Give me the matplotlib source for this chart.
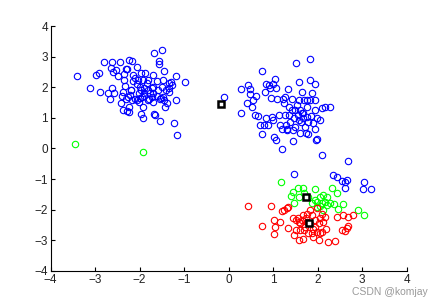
import numpy as np
import matplotlib
matplotlib.use("Agg")
import matplotlib.pyplot as plt

# cluster points
blue_x = [-3.40, -3.12, -2.99, -2.91, -2.89, -2.80, -2.70, -2.67, -2.64, -2.62, -2.61, -2.57,
          -2.59, -2.52, -2.49, -2.43, -2.42, -2.37, -2.35, -2.35, -2.31, -2.29, -2.25, -2.37,
          -2.29, -2.25, -2.23, -2.27, -2.22, -2.19, -2.16, -2.14, -2.10, -2.07, -2.07, -2.03,
          -2.02, -2.05, -2.01, -1.99, -1.96, -1.92, -1.91, -1.96, -1.95, -1.90, -1.92, -1.96,
          -1.92, -1.87, -1.84, -1.82, -1.81, -1.77, -1.73, -1.69, -1.69, -1.67, -1.67, -1.66,
          -1.62, -1.58, -1.57, -1.56, -1.54, -1.51, -1.54, -1.50, -1.48, -1.46, -1.46, -1.42,
          -1.39, -1.35, -1.35, -1.30, -1.27, -1.23, -1.19, -1.18, -1.15, -0.98, -2.18, -2.32,
          -2.18, -1.73, -1.81, -1.33, -1.48, -1.69, -2.10, -1.90, -2.00, -1.80, -2.20, -1.70,
          -2.30, -2.40, -1.60, -1.50, -1.40,
          -0.105, 0.28, 0.27, 0.44, 0.42, 0.48, 0.49, 0.52, 0.55, 0.59, 0.61, 0.67, 0.70,
          0.74, 0.76, 0.79, 0.82, 0.85, 0.85, 0.89, 0.91, 0.93, 0.94, 0.97, 0.99, 1.00, 1.02,
          1.04, 1.06, 1.06, 1.08, 1.12, 1.15, 1.19, 1.19, 1.21, 1.24, 1.27, 1.29, 1.32, 1.34,
          1.35, 1.36, 1.38, 1.42, 1.44, 1.45, 1.47, 1.49, 1.51, 1.53, 1.55, 1.57, 1.58, 1.60,
          1.63, 1.64, 1.65, 1.68, 1.69, 1.72, 1.74, 1.75, 1.76, 1.79, 1.83, 1.83, 1.84, 1.87,
          1.90, 1.93, 1.94, 1.96, 1.98, 1.99, 2.05, 2.10, 2.10, 2.17, 2.28, 1.27, 1.42, 1.57,
          1.68, 1.75, 1.60, 1.49, 1.30, 1.95, 1.83, 1.93, 1.79,
          1.47, 2.67, 2.34, 2.44, 2.54, 2.61, 2.65, 2.61, 3.03, 3.01, 3.19]
blue_y = [2.36, 1.99, 2.39, 2.48, 1.84, 2.81, 1.82, 1.62, 2.62, 2.82, 1.96, 1.82,
          2.51, 2.56, 2.37, 2.81, 1.49, 1.84, 2.23, 2.43, 2.60, 2.60, 2.89, 1.25,
          1.23, 1.19, 1.36, 1.69, 1.74, 1.91, 2.21, 2.40, 2.31, 2.10, 2.67, 2.24,
          1.80, 1.58, 1.53, 1.64, 2.47, 2.23, 1.99, 1.91, 1.69, 1.71, 1.36, 1.14,
          0.98, 2.47, 2.15, 1.91, 1.58, 1.80, 1.69, 1.53, 2.40, 1.12, 3.11, 1.09,
          2.20, 1.91, 2.87, 2.76, 1.60, 1.65, 0.89, 3.23, 2.23, 2.53, 1.58, 1.36,
          1.47, 1.85, 2.15, 2.18, 2.07, 0.84, 1.58, 2.36, 0.44, 2.16, 2.86, 2.05,
          1.58, 1.96, 2.23, 1.96, 1.69, 1.80, 1.60, 1.80, 2.00, 1.60, 1.90, 2.00,
          1.60, 1.70, 1.70, 2.00, 1.90,
          1.69, 1.95, 1.17, 2.07, 1.50, 1.78, 1.93, 1.36, 1.58, 1.09, 1.71, 1.06, 0.76,
          0.46, 2.54, 0.76, 1.85, 2.09, 0.98, 0.76, 2.07, 1.96, 1.66, 1.04, 0.93, 2.12, 0.38,
          2.27, 1.96, 0.27, 1.63, 1.09, 0.76, 0.65, -0.02, 1.63, 1.47, 1.09, 0.76, 0.60, 1.93,
          1.34, 1.09, 0.87, 1.60, 0.60, 0.25, 0.98, 0.71, 2.78, 1.41, 1.09, 2.17, 1.58, 0.49,
          0.87, 1.85, 1.17, 0.98, 1.58, 0.71, 0.49, 1.36, 1.58, 0.87, 2.93, 2.23, 1.06, 1.80,
          0.82, 1.25, 2.12, 0.27, 0.32, 0.98, 0.93, 1.31, -0.22, 1.34, 1.36, 1.69, 1.25, 0.93,
          1.15, 1.04, 1.25, 1.25, 0.65, 1.58, 1.58, 0.65, 0.46,
          -0.82, -0.40, -0.87, -0.95, -1.06, -1.09, -1.02, -1.31, -1.09, -1.32, -1.32]

green_x = [-3.45, -1.93, 1.18, 1.39, 1.44, 1.47, 1.55, 1.57, 1.66, 1.69, 1.79, 1.87,
           1.93, 1.95, 1.99, 2.05, 2.10, 2.13, 2.17, 2.20, 2.22, 2.28, 2.33, 2.37,
           2.43, 2.46, 2.57, 2.90, 3.03, 2.11, 2.06, 1.99]
green_y = [0.16, -0.11, -1.09, -1.56, -1.42, -1.77, -1.29, -1.58, -1.31, -1.47, -1.58, -1.77,
           -1.33, -1.69, -1.91, -1.58, -1.80, -1.52, -1.75, -1.58, -1.85, -1.80, -1.31, -1.82,
           -1.46, -1.99, -1.82, -2.02, -2.16, -2.00, -1.88, -1.74]

red_x = [0.44, 0.74, 0.95, 1.02, 1.04, 1.02, 1.15, 1.19, 1.24, 1.30, 1.34, 1.34, 1.47,
         1.51, 1.55, 1.57, 1.59, 1.60, 1.64, 1.68, 1.69, 1.74, 1.75, 1.76, 1.79, 1.83,
         1.87, 1.90, 1.93, 1.95, 1.98, 1.99, 2.03, 2.05, 2.06, 2.09, 2.10, 2.13, 2.17,
         2.19, 2.24, 2.39, 2.43, 2.54, 2.57, 2.61, 2.65, 2.69, 2.80, 2.69, 1.51, 1.60,
         1.68, 1.79, 1.90, 2.03, 1.72, 1.87, 1.45]
red_y = [-1.87, -2.52, -1.89, -2.34, -2.56, -2.81, -2.40, -2.04, -2.02, -1.96, -1.91, -2.59, -2.83,
         -2.67, -2.29, -2.40, -3.00, -2.43, -2.34, -2.95, -2.67, -2.29, -2.40, -2.13, -2.75, -2.02,
         -2.18, -2.91, -2.34, -2.56, -1.96, -2.73, -3.00, -2.29, -2.78, -2.13, -2.73, -2.40, -2.24,
         -2.62, -3.06, -3.02, -2.24, -2.67, -2.16, -2.70, -2.59, -2.24, -2.18, -2.53, -2.34, -2.67,
         -2.18, -2.45, -2.62, -2.45, -2.56, -2.78, -2.29]

# centroids
cent_x = [-0.18, 1.74, 1.81]
cent_y = [1.44, -1.58, -2.43]

ticks = [-4, -3, -2, -1, 0, 1, 2, 3, 4]

plt.rcParams['font.family'] = ['Liberation Sans', 'DejaVu Sans']

fig = plt.figure(figsize=(4.44, 3.06), dpi=100)
ax = fig.add_axes([0.114, 0.115, 0.802, 0.80])

mk = dict(marker='o', linestyle='none', markersize=4.6, markerfacecolor='none', markeredgewidth=0.8)
ax.plot(blue_x, blue_y, markeredgecolor='#0000ff', **mk)
ax.plot(green_x, green_y, markeredgecolor='#00ff00', **mk)
ax.plot(red_x, red_y, markeredgecolor='#ff0000', **mk)
ax.plot(cent_x, cent_y, marker='s', linestyle='none', markersize=5,
        markerfacecolor='white', markeredgecolor='black', markeredgewidth=1.8)

ax.set_xlim(-4, 4)
ax.set_ylim(-4, 4)
ax.set_xticks(ticks)
ax.set_yticks(ticks)
for s in ['top', 'right']:
    ax.spines[s].set_visible(False)
for s in ['left', 'bottom']:
    ax.spines[s].set_linewidth(0.8)
ax.tick_params(direction='in', length=3, width=0.8, labelsize=8.5, pad=2, labelcolor='#222222')

fig.text(0.964, 0.03, 'CSDN @komjay', ha='right', va='bottom', fontsize=7.5, color='#999999')

fig.savefig('out.png', dpi=100)
